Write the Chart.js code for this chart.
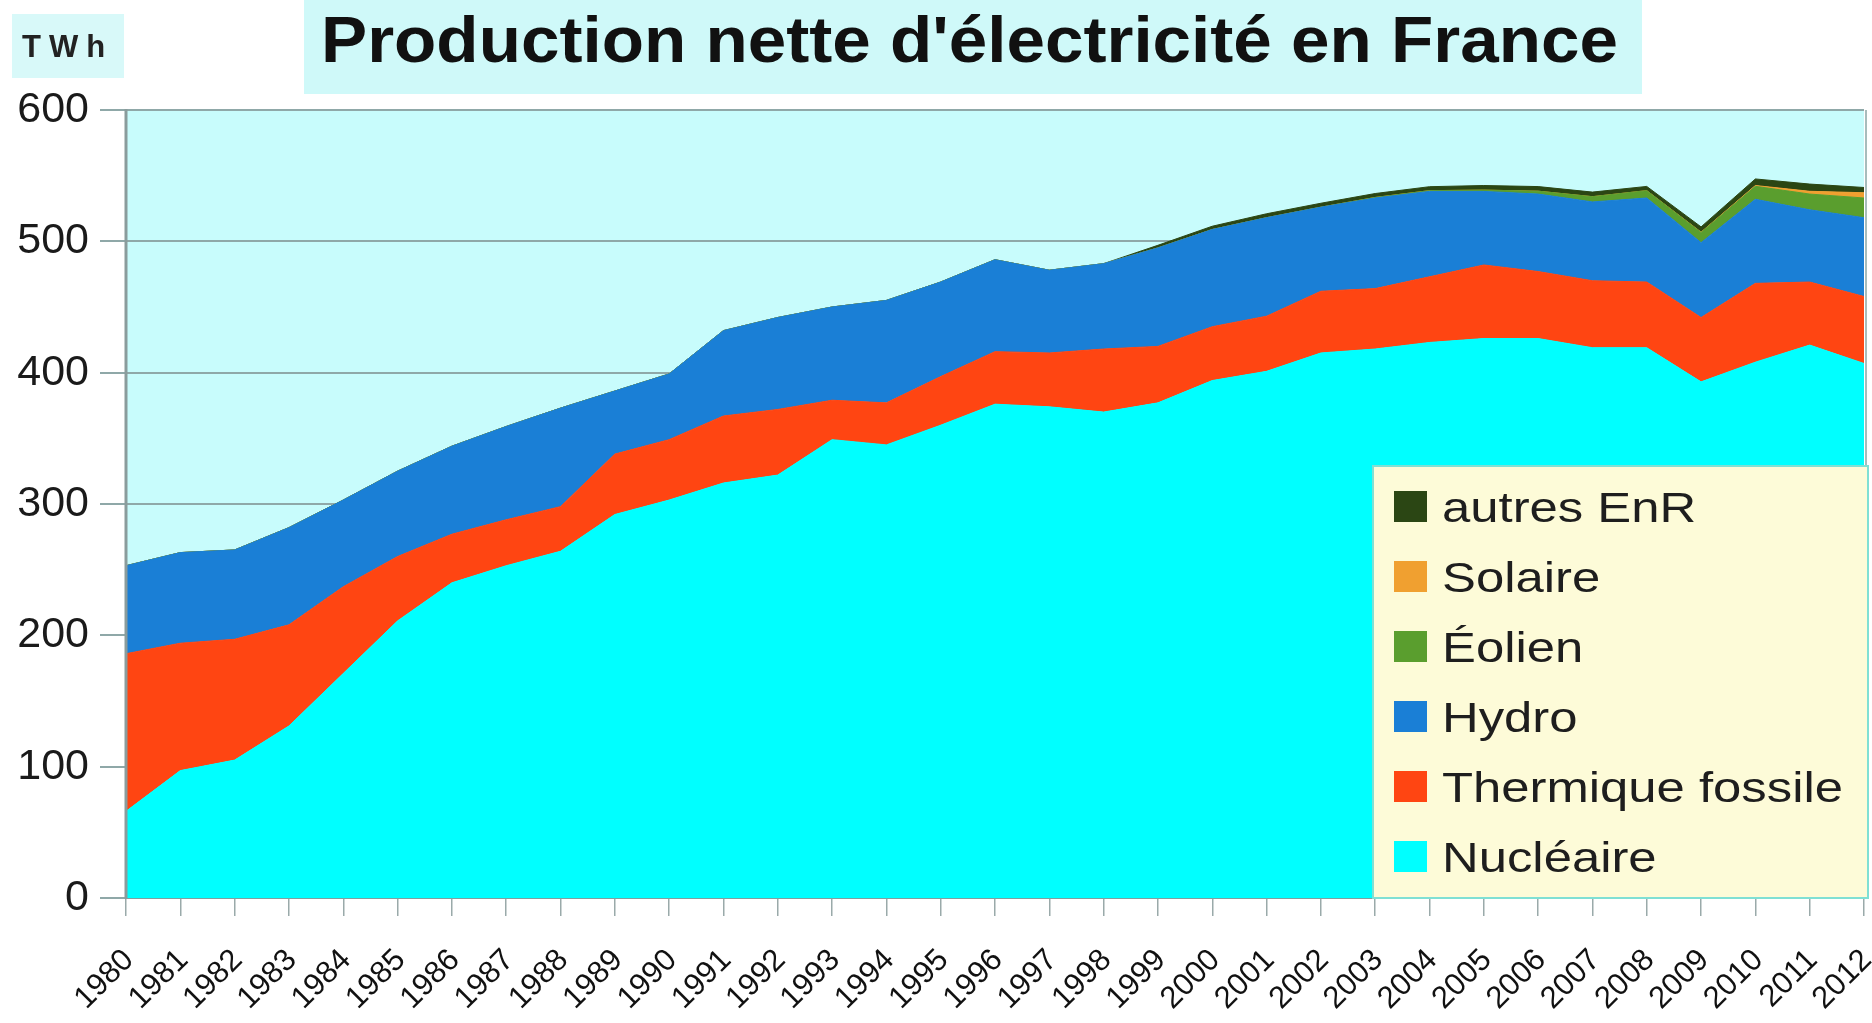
<!DOCTYPE html>
<html>
<head>
<meta charset="utf-8">
<script src="https://cdn.jsdelivr.net/npm/chart.js@4.4.1/dist/chart.umd.min.js"></script>
<style>
  html, body { margin: 0; padding: 0; background: #ffffff; }
  #wrap { width: 1872px; height: 1023px; }
</style>
</head>
<body>
<div id="wrap"><canvas id="c" width="1872" height="1023"></canvas></div>
<script>
// ---- data (TWh) ----
const years = ['1980','1981','1982','1983','1984','1985','1986','1987','1988','1989',
               '1990','1991','1992','1993','1994','1995','1996','1997','1998','1999',
               '2000','2001','2002','2003','2004','2005','2006','2007','2008','2009',
               '2010','2011','2012'];
const nucleaire = [66, 97, 105, 131, 171, 211, 240, 253, 264, 292,
                   303, 316, 322, 349, 345, 360, 376, 374, 370, 377,
                   394, 401, 415, 418, 423, 426, 426, 419, 419, 393,
                   408, 421, 407];
const thermique = [120, 97, 92, 77, 66, 49, 37, 35, 34, 46,
                   46, 51, 50, 30, 32, 37, 40, 41, 48, 43,
                   41, 42, 47, 46, 50, 56, 51, 51, 50, 49,
                   60, 48, 51];
const hydro = [67, 69, 68, 74, 66, 65, 67, 71, 75, 48,
               50, 65, 70, 71, 78, 72, 70, 63, 65, 75,
               74, 75, 64, 69, 65, 56, 59, 60, 64, 57,
               64, 55, 60];
const eolien = [0, 0, 0, 0, 0, 0, 0, 0, 0, 0,
                0, 0, 0, 0, 0, 0, 0, 0, 0, 0,
                0, 0, 0, 0.4, 0.6, 1, 2.2, 4, 5.6, 7.8,
                9.9, 12, 15];
const solaire = [0, 0, 0, 0, 0, 0, 0, 0, 0, 0,
                 0, 0, 0, 0, 0, 0, 0, 0, 0, 0,
                 0, 0, 0, 0, 0, 0, 0, 0, 0, 0.2,
                 0.6, 2.1, 4];
const autresEnR = [0, 0, 0, 0, 0, 0, 0, 0, 0, 0,
                   0, 0, 0, 0, 0, 0, 0, 0, 0, 2,
                   2.5, 3, 3, 3, 3, 3.5, 3.5, 3.5, 3.2, 4,
                   5, 5.5, 4];
const yTicks = [0, 100, 200, 300, 400, 500, 600];
const seriesNames = ['Nucléaire', 'Thermique fossile', 'Hydro', 'Éolien', 'Solaire', 'autres EnR'];
const titleText = "Production nette d'électricité en France";
const unitText = 'TWh';

// ---- styles ----
const colors = ['#00ffff', '#ff4512', '#1a7fd6', '#5a9e2e', '#f0a030', '#2b4614'];
const FONT = '"Liberation Sans", Arial, sans-serif';

const seriesData = [nucleaire, thermique, hydro, eolien, solaire, autresEnR];
const datasets = seriesData.map((d, i) => ({
  label: seriesNames[i],
  data: d,
  backgroundColor: colors[i],
  borderColor: colors[i],
  borderWidth: 1,
  pointRadius: 0,
  pointHoverRadius: 0,
  tension: 0,
  fill: i === 0 ? 'origin' : '-1'
}));

const decor = {
  id: 'decor',
  beforeDraw(chart) {
    const { ctx, chartArea: a } = chart;
    ctx.save();
    ctx.fillStyle = '#ffffff';
    ctx.fillRect(0, 0, chart.width, chart.height);
    // plot background
    ctx.fillStyle = '#c8fcfc';
    ctx.fillRect(a.left, a.top, a.right - a.left, a.bottom - a.top);
    // title background
    ctx.fillStyle = '#cff9f9';
    ctx.fillRect(304, 0, 1338, 94);
    // unit background
    ctx.fillStyle = '#d8f9f9';
    ctx.fillRect(12, 14, 112, 64);
    // title text
    ctx.font = 'bold 64px ' + FONT;
    const tw = ctx.measureText(titleText).width;
    ctx.translate(321, 62);
    ctx.scale(1297 / tw, 1);
    ctx.fillStyle = '#111111';
    ctx.textBaseline = 'alphabetic';
    ctx.textAlign = 'left';
    ctx.fillText(titleText, 0, 0);
    ctx.restore();
    // unit text
    ctx.save();
    ctx.font = 'bold 31px ' + FONT;
    ctx.fillStyle = '#222222';
    ctx.textBaseline = 'alphabetic';
    ctx.textAlign = 'left';
    if ('letterSpacing' in ctx) ctx.letterSpacing = '8px';
    ctx.fillText(unitText, 22, 57);
    ctx.restore();
  },
  afterDatasetsDraw(chart) {
    const { ctx, chartArea: a } = chart;
    ctx.save();
    // axis frame lines
    ctx.strokeStyle = '#8a9c9c';
    ctx.lineWidth = 3;
    ctx.beginPath();
    ctx.moveTo(a.left, a.top - 1);
    ctx.lineTo(a.left, a.bottom + 1);
    ctx.stroke();
    ctx.lineWidth = 2;
    ctx.strokeStyle = '#a8bcbc';
    ctx.beginPath();
    ctx.moveTo(a.right + 2, a.top);
    ctx.lineTo(a.right + 2, a.bottom);
    ctx.stroke();
    // legend box
    const L = { x: 1373, y: 466, w: 495, h: 432 };
    ctx.fillStyle = '#fdfbd8';
    ctx.fillRect(L.x, L.y, L.w, L.h);
    ctx.strokeStyle = '#7fe0d4';
    ctx.lineWidth = 2;
    ctx.strokeRect(L.x, L.y, L.w, L.h);
    ctx.font = '43px ' + FONT;
    const ref = ctx.measureText('Thermique fossile').width;
    const sx = 401 / ref;
    const ds = chart.data.datasets.slice().reverse();
    ds.forEach((d, k) => {
      const base = 522 + k * 70;
      ctx.fillStyle = d.backgroundColor;
      ctx.fillRect(1394, base - 31, 33, 31);
      ctx.save();
      ctx.translate(1442, base);
      ctx.scale(sx, 1);
      ctx.fillStyle = '#1e1e1e';
      ctx.textBaseline = 'alphabetic';
      ctx.textAlign = 'left';
      ctx.fillText(d.label, 0, 0);
      ctx.restore();
    });
    ctx.restore();
  }
};

new Chart(document.getElementById('c'), {
  type: 'line',
  data: { labels: years, datasets },
  options: {
    responsive: false,
    animation: false,
    devicePixelRatio: 1,
    layout: { padding: { top: 110, right: 8, left: 0, bottom: 0 } },
    plugins: {
      legend: { display: false },
      title: { display: false },
      tooltip: { enabled: false }
    },
    elements: { line: { borderJoinStyle: 'round' } },
    scales: {
      x: {
        z: 1,
        offset: false,
        grid: {
          drawOnChartArea: false,
          drawTicks: true,
          tickLength: 18,
          color: '#9aaaaa',
          lineWidth: 1.5
        },
        border: { display: true, color: '#7fa0a0', width: 2 },
        ticks: {
          autoSkip: false,
          minRotation: 45,
          maxRotation: 45,
          padding: 26,
          labelOffset: 3,
          color: '#111111',
          font: { family: FONT, size: 31 }
        },
        afterFit(s) { s.height = 125; s.paddingLeft = 0; s.paddingRight = 0; }
      },
      y: {
        stacked: true,
        min: 0,
        max: 600,
        afterBuildTicks(s) { s.ticks = yTicks.map(v => ({ value: v })); },
        grid: {
          color: '#8fa8a8',
          lineWidth: 2,
          tickLength: 26,
          drawTicks: true
        },
        border: { display: false },
        ticks: {
          padding: 11,
          color: '#1a1a1a',
          font: { family: FONT, size: 43 },
          callback: v => String(v)
        },
        afterFit(s) { s.width = 126; }
      }
    }
  },
  plugins: [decor]
});
</script>
</body>
</html>
